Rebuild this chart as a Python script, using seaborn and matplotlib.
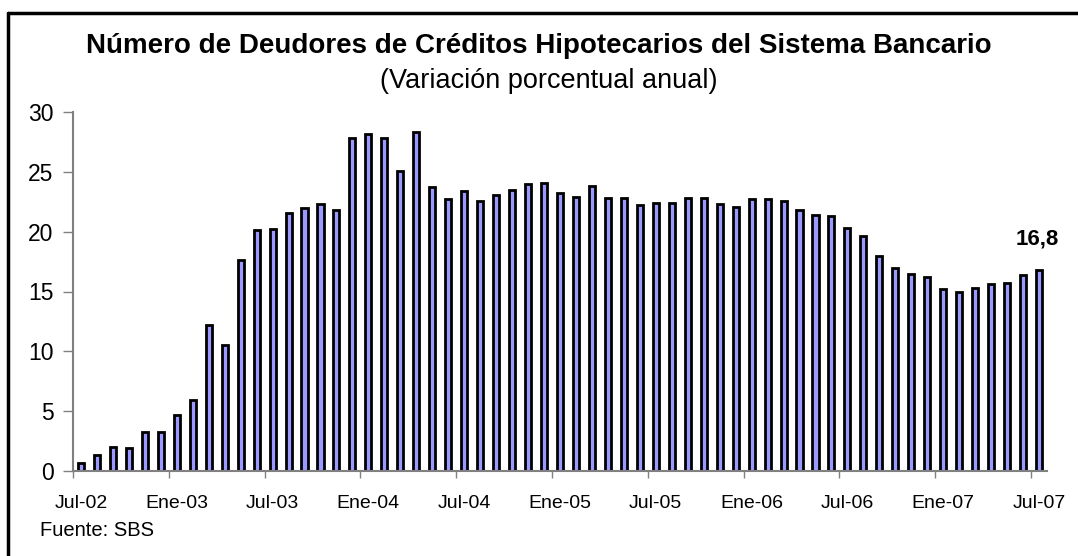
import numpy as np
import pandas as pd
import seaborn as sns
import matplotlib.pyplot as plt
from matplotlib.lines import Line2D

# monthly data, Jul-02 .. Jul-07
meses = ["Jul-02", "Ago-02", "Sep-02", "Oct-02", "Nov-02", "Dic-02",
         "Ene-03", "Feb-03", "Mar-03", "Abr-03", "May-03", "Jun-03",
         "Jul-03", "Ago-03", "Sep-03", "Oct-03", "Nov-03", "Dic-03",
         "Ene-04", "Feb-04", "Mar-04", "Abr-04", "May-04", "Jun-04",
         "Jul-04", "Ago-04", "Sep-04", "Oct-04", "Nov-04", "Dic-04",
         "Ene-05", "Feb-05", "Mar-05", "Abr-05", "May-05", "Jun-05",
         "Jul-05", "Ago-05", "Sep-05", "Oct-05", "Nov-05", "Dic-05",
         "Ene-06", "Feb-06", "Mar-06", "Abr-06", "May-06", "Jun-06",
         "Jul-06", "Ago-06", "Sep-06", "Oct-06", "Nov-06", "Dic-06",
         "Ene-07", "Feb-07", "Mar-07", "Abr-07", "May-07", "Jun-07",
         "Jul-07"]

variacion = [0.7, 1.3, 2.0, 1.9, 3.3, 3.3, 4.7, 5.9, 12.2, 10.5,
             17.6, 20.1, 20.2, 21.6, 22.0, 22.3, 21.8, 27.8, 28.2, 27.8,
             25.1, 28.3, 23.7, 22.7, 23.4, 22.6, 23.1, 23.5, 24.0, 24.1,
             23.2, 22.9, 23.8, 22.8, 22.8, 22.2, 22.4, 22.4, 22.8, 22.8,
             22.3, 22.1, 22.7, 22.7, 22.6, 21.8, 21.4, 21.3, 20.3, 19.6,
             18.0, 17.0, 16.5, 16.2, 15.2, 15.0, 15.3, 15.6, 15.7, 16.4,
             16.8]

# x-axis labels shown every six months
etiquetas = ["Jul-02", "Ene-03", "Jul-03", "Ene-04", "Jul-04", "Ene-05",
             "Jul-05", "Ene-06", "Jul-06", "Ene-07", "Jul-07"]

df = pd.DataFrame({"mes": meses, "variacion": variacion})

sns.set_style("white")
plt.rcParams['font.family'] = ['Liberation Sans', 'DejaVu Sans']
plt.rcParams['text.color'] = 'black'

fig = plt.figure(figsize=(10.78, 5.56), dpi=100)
ax = fig.add_axes([73 / 1078, 1 - 471 / 556, 974 / 1078, 359 / 556])

sns.barplot(data=df, x="mes", y="variacion", color="#9999FF", saturation=1,
            width=0.38, edgecolor="black", linewidth=2, ax=ax)

ax.set_xlim(-0.5, len(meses) - 0.5)
ax.set_ylim(0, 30)
ax.set_yticks([0, 5, 10, 15, 20, 25, 30])
ax.tick_params(axis="y", labelsize=16.5, length=7, width=1, color="#808080",
               labelcolor="black", direction="out", left=True, pad=7)

# ticks between categories, labels centred on the bars
pos = [meses.index(e) for e in etiquetas]
ax.set_xticks([p - 0.5 for p in pos])
ax.set_xticklabels([])
ax.set_xticks(pos, minor=True)
ax.set_xticklabels(etiquetas, minor=True)
ax.tick_params(axis="x", which="major", length=5, width=1, color="#808080",
               direction="out", bottom=True)
ax.tick_params(axis="x", which="minor", length=0, labelsize=14, pad=17,
               labelcolor="black")

ax.set_xlabel("")
ax.set_ylabel("")
for s in ["top", "right"]:
    ax.spines[s].set_visible(False)
for s in ["left", "bottom"]:
    ax.spines[s].set_color("#808080")
    ax.spines[s].set_linewidth(1.5)

# last value label
ax.text(len(meses) - 1.1, variacion[-1] + 2.6, f"{variacion[-1]:.1f}".replace(".", ","),
        ha="center", va="center", fontsize=16, fontweight="bold", color="black")

fig.text(539 / 1078, 1 - 46 / 556,
         "Número de Deudores de Créditos Hipotecarios del Sistema Bancario",
         ha="center", va="center", fontsize=20, fontweight="bold", color="black")
fig.text(549 / 1078, 1 - 81 / 556, "(Variación porcentual anual)",
         ha="center", va="center", fontsize=19.5, color="black")
fig.text(40 / 1078, 1 - 531 / 556, "Fuente: SBS", ha="left", va="center",
         fontsize=14.5, color="black")

# frame around the chart (only left and top edges fall inside the image)
fig.add_artist(Line2D([8 / 1078, 8 / 1078], [0, 1 - 13 / 556],
                      transform=fig.transFigure, color="black", linewidth=2.5))
fig.add_artist(Line2D([8 / 1078, 1], [1 - 13 / 556, 1 - 13 / 556],
                      transform=fig.transFigure, color="black", linewidth=2.5))

fig.savefig("out.png", dpi=100)
